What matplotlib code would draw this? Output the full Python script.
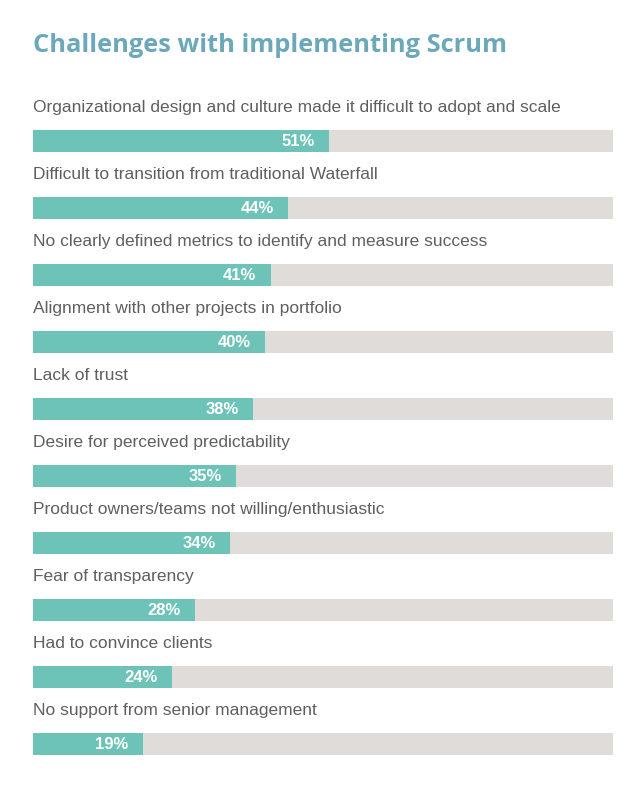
"""Challenges with implementing Scrum - horizontal progress bars"""
import matplotlib.pyplot as plt

labels = [
    'Organizational design and culture made it difficult to adopt and scale',
    'Difficult to transition from traditional Waterfall',
    'No clearly defined metrics to identify and measure success',
    'Alignment with other projects in portfolio',
    'Lack of trust',
    'Desire for perceived predictability',
    'Product owners/teams not willing/enthusiastic',
    'Fear of transparency',
    'Had to convince clients',
    'No support from senior management',
]
values = [51, 44, 41, 40, 38, 35, 34, 28, 24, 19]

TEAL  = '#6dc3b8'
GREY  = '#dfdcd9'
TITLE = '#6ba8ba'
TEXT  = '#5f5f5f'

W, H = 640, 795
fig = plt.figure(figsize=(W / 100, H / 100), dpi=100)
fig.patch.set_facecolor('white')

# x: 0-100 % spans pixel 33..613; y: one unit per row, row 0 centred at 141 px
left, right = 33, 613
ax = fig.add_axes([left / W, 0, (right - left) / W, 1])
row_px, first_px = 67, 141
ax.set_xlim(0, 100)
ax.set_ylim((H - first_px) / row_px, -first_px / row_px)
ax.axis('off')

bar_h = 22 / row_px
for i, (lab, v) in enumerate(zip(labels, values)):
    ax.barh(i, 100, height=bar_h, color=GREY, linewidth=0)
    ax.barh(i, v, height=bar_h, color=TEAL, linewidth=0)
    ax.text(v - 2.5, i + 0.01, f'{v}%', ha='right', va='center', color='white',
            fontsize=12, fontweight='bold', family='Liberation Sans')
    ax.text(0, i - 0.5, lab, ha='left', va='center', color=TEXT,
            fontsize=12.5, family='Liberation Sans')

fig.text(left / W, 1 - 46 / H, 'Challenges with implementing Scrum', ha='left',
         va='center', color=TITLE, fontsize=18.3, fontweight='bold', family='Open Sans')

fig.savefig('out.png', dpi=100)
plt.close(fig)
